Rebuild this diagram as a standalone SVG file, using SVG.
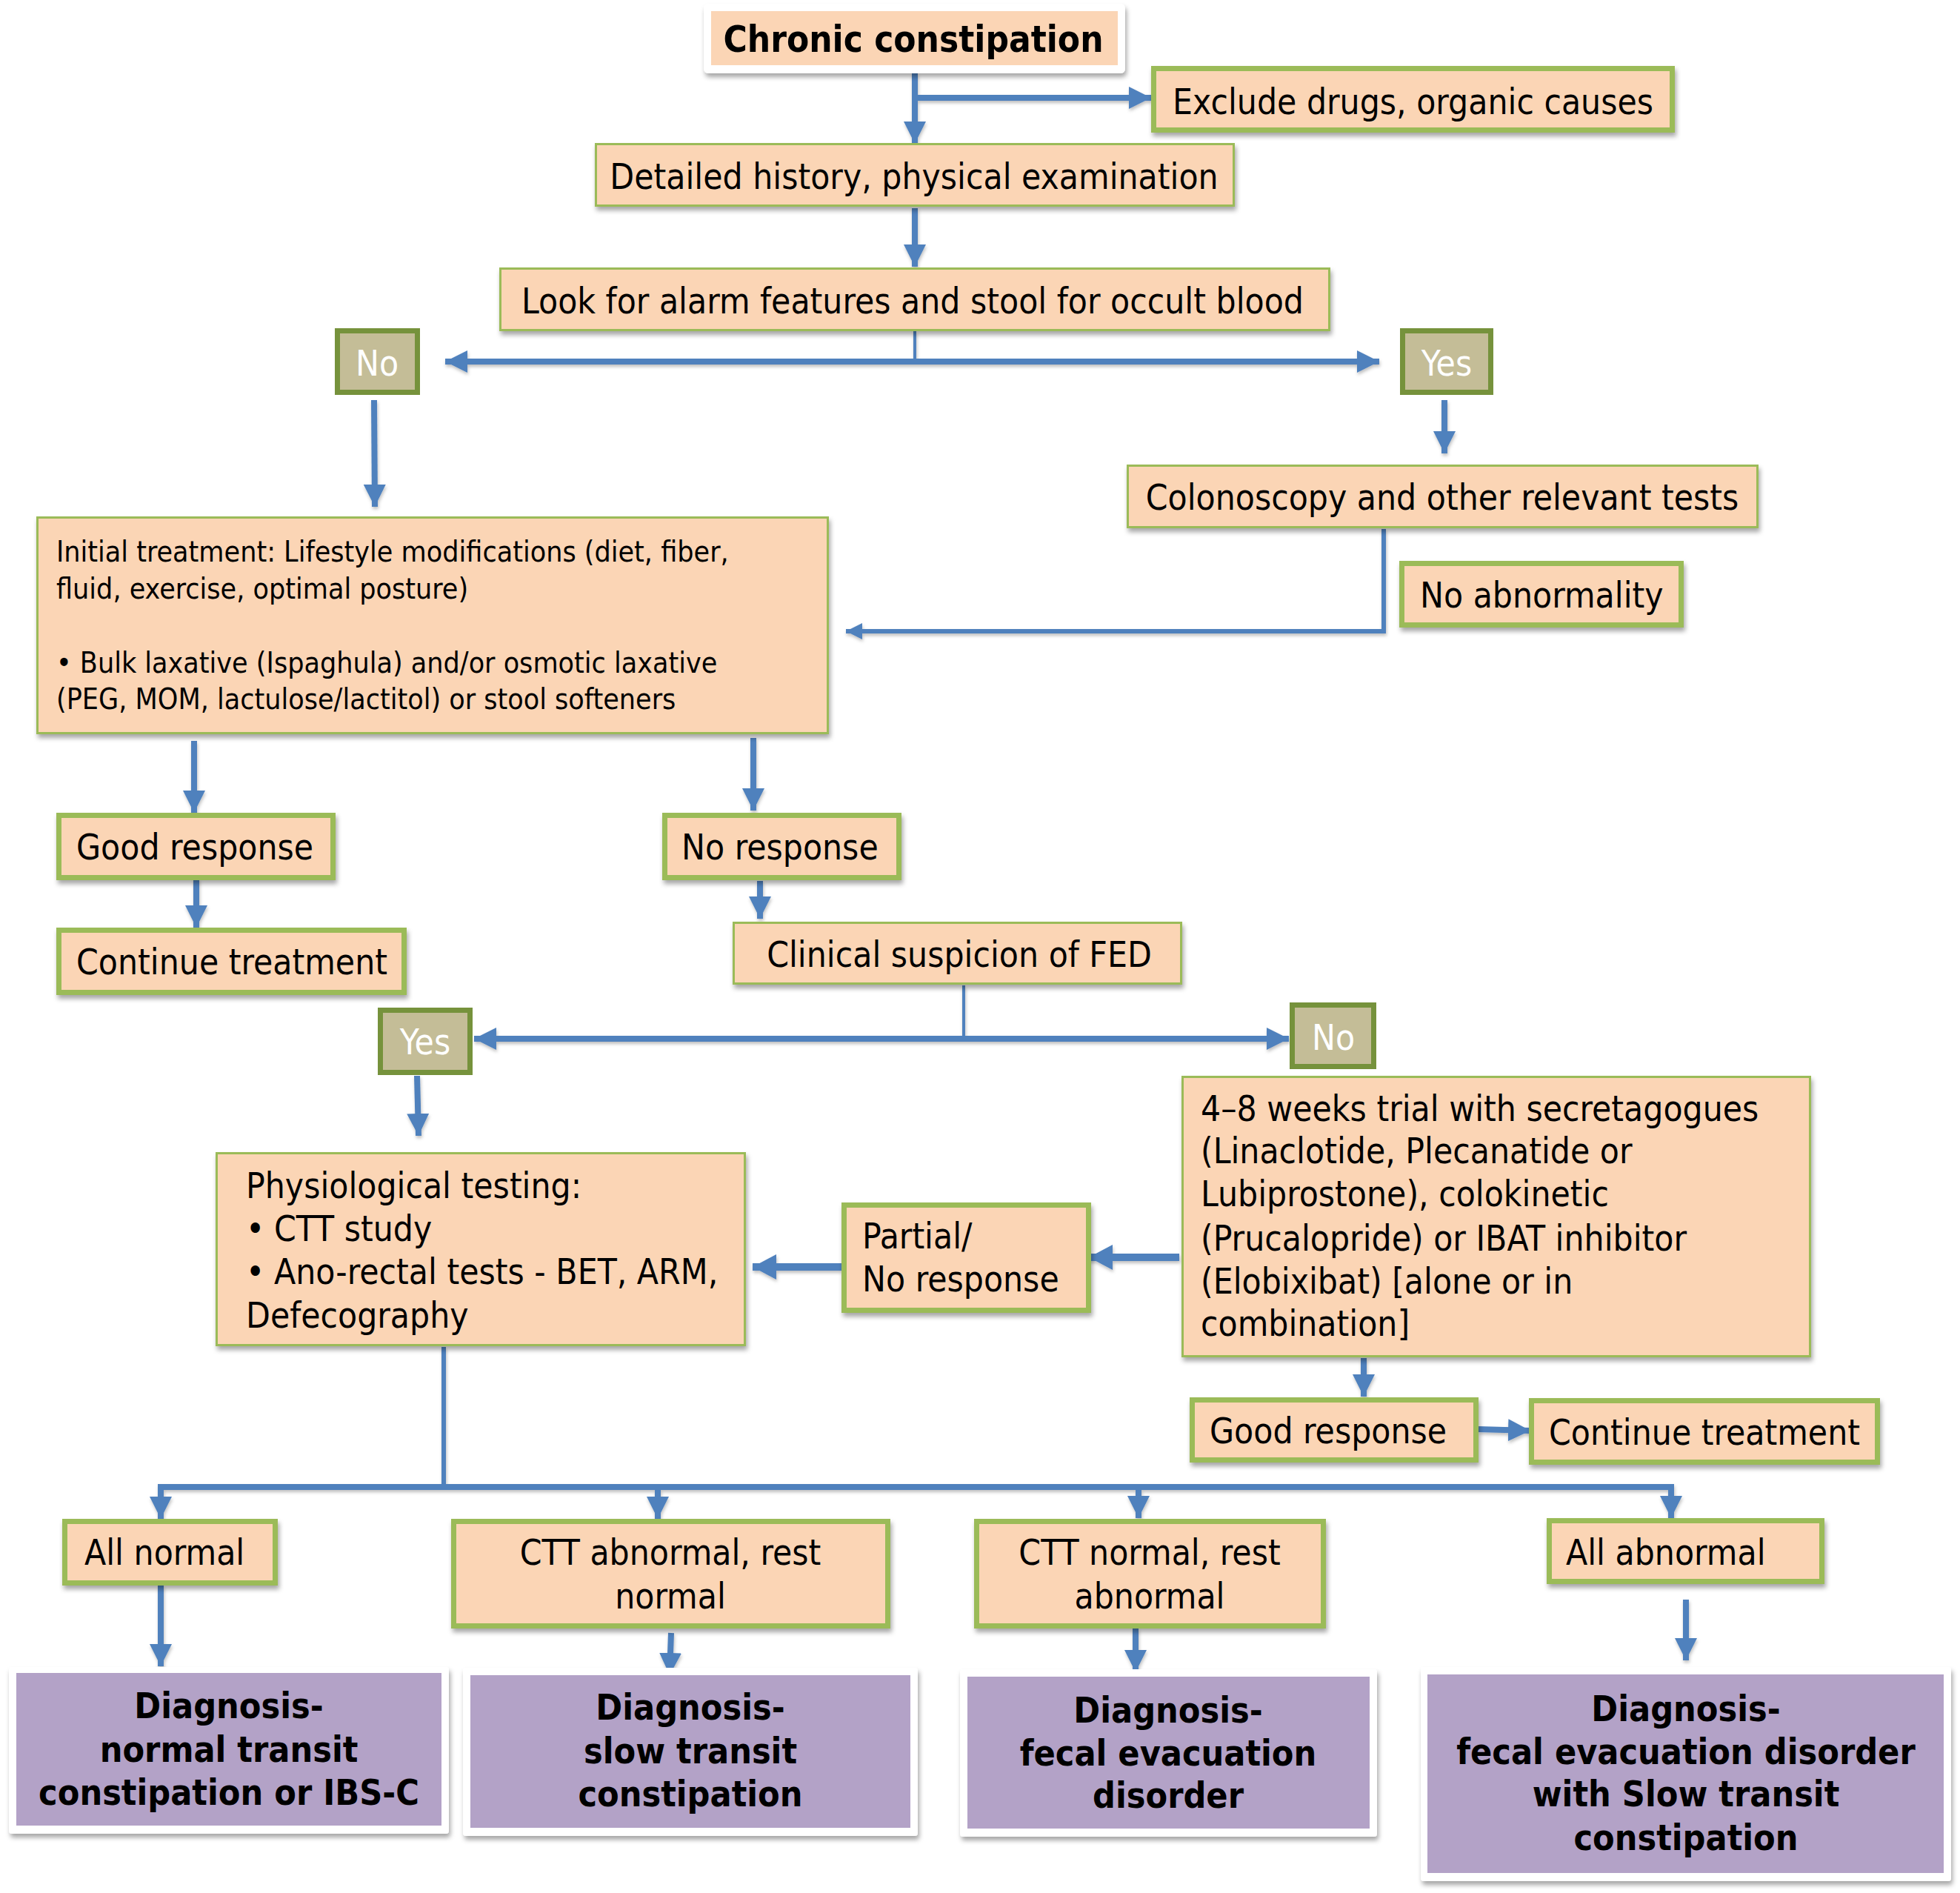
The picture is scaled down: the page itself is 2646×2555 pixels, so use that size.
<svg xmlns="http://www.w3.org/2000/svg" width="2646" height="2555" viewBox="0 0 2646 2555">
<style>
.t{font-family:"DejaVu Sans Condensed","DejaVu Sans",sans-serif;font-stretch:condensed;font-size:47.5px;fill:#000}
.s{font-size:39px}
.w{fill:#fff}
.m{text-anchor:middle}
.tb{font-family:"DejaVu Sans Condensed","DejaVu Sans",sans-serif;font-stretch:condensed;font-weight:bold;font-size:49px;text-anchor:middle}
.db{font-family:"DejaVu Sans Condensed","DejaVu Sans",sans-serif;font-stretch:condensed;font-weight:bold;font-size:48px;text-anchor:middle;fill:#000}
.p1{fill:#FBD5B5;stroke:#9BBB59;stroke-width:3}
.p2{fill:#FBD5B5;stroke:#9BBB59;stroke-width:7}
.ol{fill:#C4BD97;stroke:#76923C;stroke-width:7}
.pu{fill:#B3A2C7}
.wb{fill:#fff}
.c{stroke:#4F81BD;fill:none;stroke-width:8}
.c4{stroke-width:4}
.c6{stroke-width:6}
.c10{stroke-width:10}
</style>
<defs>
<filter id="sh" x="-10%" y="-10%" width="120%" height="130%">
<feDropShadow dx="2" dy="5" stdDeviation="3" flood-color="#000" flood-opacity="0.35"/>
</filter>
<filter id="shl" x="-10%" y="-50%" width="120%" height="200%">
<feDropShadow dx="1" dy="3" stdDeviation="2" flood-color="#000" flood-opacity="0.25"/>
</filter>
<marker id="a" markerWidth="30" markerHeight="30" refX="30" refY="15" orient="auto-start-reverse" markerUnits="userSpaceOnUse">
<path d="M0,0 L30,15 L0,30 Z" fill="#4F81BD"/>
</marker>
<marker id="as" markerWidth="22" markerHeight="22" refX="22" refY="11" orient="auto-start-reverse" markerUnits="userSpaceOnUse">
<path d="M0,0 L22,11 L0,22 Z" fill="#4F81BD"/>
</marker>
<marker id="ab" markerWidth="32" markerHeight="34" refX="32" refY="17" orient="auto-start-reverse" markerUnits="userSpaceOnUse">
<path d="M0,0 L32,17 L0,34 Z" fill="#4F81BD"/>
</marker>
</defs>
<rect width="2646" height="2555" fill="#fff"/>

<g id="connectors" filter="url(#shl)">
<line class="c" x1="1235" y1="99" x2="1235" y2="194" marker-end="url(#a)"/>
<line class="c" x1="1235" y1="132" x2="1554" y2="132" marker-end="url(#a)"/>
<line class="c" x1="1235" y1="281" x2="1235" y2="360" marker-end="url(#a)"/>
<line class="c c4" x1="1235" y1="447" x2="1235" y2="488"/>
<line class="c" x1="601" y1="488" x2="1862" y2="488" marker-start="url(#a)" marker-end="url(#a)"/>
<line class="c" x1="505" y1="540" x2="506" y2="684" marker-end="url(#a)"/>
<line class="c" x1="1950" y1="540" x2="1950" y2="612" marker-end="url(#a)"/>
<path class="c c6" d="M1868,714 V852 H1142" marker-end="url(#as)"/>
<line class="c" x1="262" y1="1000" x2="262" y2="1097" marker-end="url(#a)"/>
<line class="c" x1="1017" y1="996" x2="1017" y2="1094" marker-end="url(#a)"/>
<line class="c" x1="265" y1="1186" x2="265" y2="1252" marker-end="url(#a)"/>
<line class="c" x1="1026" y1="1189" x2="1026" y2="1240" marker-end="url(#a)"/>
<line class="c c4" x1="1301" y1="1330" x2="1301" y2="1402"/>
<line class="c" x1="640" y1="1402" x2="1740" y2="1402" marker-start="url(#a)" marker-end="url(#a)"/>
<line class="c" x1="563" y1="1452" x2="565" y2="1533" marker-end="url(#a)"/>
<line class="c c10" x1="1592" y1="1697" x2="1470" y2="1697" marker-end="url(#ab)"/>
<line class="c c10" x1="1136" y1="1710" x2="1016" y2="1710" marker-end="url(#ab)"/>
<line class="c" x1="1841" y1="1833" x2="1841" y2="1885" marker-end="url(#a)"/>
<line class="c" x1="1996" y1="1929" x2="2066" y2="1931" marker-end="url(#a)"/>
<line class="c c6" x1="599" y1="1818" x2="599" y2="2007"/>
<line class="c" x1="217" y1="2007" x2="2256" y2="2007"/>
<line class="c" x1="217" y1="2003" x2="217" y2="2050" marker-end="url(#a)"/>
<line class="c" x1="888" y1="2007" x2="888" y2="2050" marker-end="url(#a)"/>
<line class="c" x1="1537" y1="2007" x2="1537" y2="2049" marker-end="url(#a)"/>
<line class="c" x1="2256" y1="2003" x2="2256" y2="2049" marker-end="url(#a)"/>
<line class="c" x1="217" y1="2140" x2="217" y2="2249" marker-end="url(#a)"/>
<line class="c" x1="906" y1="2204" x2="904" y2="2261" marker-end="url(#a)"/>
<line class="c" x1="1533" y1="2198" x2="1533" y2="2257" marker-end="url(#a)"/>
<line class="c" x1="2276" y1="2159" x2="2276" y2="2241" marker-end="url(#a)"/>
</g>

<g id="n-chronic">
<rect class="wb" x="950" y="5" width="569" height="94" rx="6" filter="url(#sh)"/>
<rect x="960" y="15" width="549" height="73" fill="#FBD5B5"/>
<text class="tb" x="1233" y="70">Chronic constipation</text>
</g>
<g id="n-exclude">
<rect class="p2" x="1557.5" y="92.5" width="700" height="83" filter="url(#sh)"/>
<text class="t" x="1583" y="154">Exclude drugs, organic causes</text>
</g>
<g id="n-history">
<rect class="p1" x="804.5" y="194.5" width="861" height="83" filter="url(#sh)"/>
<text class="t m" x="1234" y="255">Detailed history, physical examination</text>
</g>
<g id="n-alarm">
<rect class="p1" x="675.5" y="362.5" width="1119" height="83" filter="url(#sh)"/>
<text class="t m" x="1232" y="423">Look for alarm features and stool for occult blood</text>
</g>
<g id="n-no1">
<rect class="ol" x="455.5" y="446.5" width="108" height="83"/>
<text class="t w m" x="509" y="507">No</text>
</g>
<g id="n-yes1">
<rect class="ol" x="1893.5" y="446.5" width="119" height="83"/>
<text class="t w m" x="1953" y="507">Yes</text>
</g>
<g id="n-colonoscopy">
<rect class="p1" x="1522.5" y="628.5" width="850" height="83" filter="url(#sh)"/>
<text class="t m" x="1947" y="688">Colonoscopy and other relevant tests</text>
</g>
<g id="n-noabn">
<rect class="p2" x="1892.5" y="760.5" width="377" height="83" filter="url(#sh)"/>
<text class="t" x="1917" y="820">No abnormality</text>
</g>
<g id="n-initial">
<rect class="p1" x="50.5" y="698.5" width="1067" height="291" filter="url(#sh)"/>
<text class="t s" x="76" y="758">Initial treatment: Lifestyle modifications (diet, fiber,</text>
<text class="t s" x="76" y="808">fluid, exercise, optimal posture)</text>
<text class="t s" x="76" y="908">• Bulk laxative (Ispaghula) and/or osmotic laxative</text>
<text class="t s" x="76" y="957">(PEG, MOM, lactulose/lactitol) or stool softeners</text>
</g>
<g id="n-good1">
<rect class="p2" x="79.5" y="1100.5" width="370" height="84" filter="url(#sh)"/>
<text class="t" x="103" y="1160">Good response</text>
</g>
<g id="n-cont1">
<rect class="p2" x="79.5" y="1255.5" width="466" height="84" filter="url(#sh)"/>
<text class="t" x="103" y="1315">Continue treatment</text>
</g>
<g id="n-noresp">
<rect class="p2" x="897.5" y="1100.5" width="316" height="84" filter="url(#sh)"/>
<text class="t" x="920" y="1160">No response</text>
</g>
<g id="n-fed">
<rect class="p1" x="990.5" y="1245.5" width="604" height="82" filter="url(#sh)"/>
<text class="t m" x="1295" y="1305">Clinical suspicion of FED</text>
</g>
<g id="n-yes2">
<rect class="ol" x="513.5" y="1363.5" width="121" height="84"/>
<text class="t w m" x="574" y="1423">Yes</text>
</g>
<g id="n-no2">
<rect class="ol" x="1744.5" y="1356.5" width="110" height="83"/>
<text class="t w m" x="1800" y="1417">No</text>
</g>
<g id="n-trial">
<rect class="p1" x="1596.5" y="1453.5" width="847" height="377" filter="url(#sh)"/>
<text class="t" x="1621" y="1513">4–8 weeks trial with secretagogues</text>
<text class="t" x="1621" y="1570">(Linaclotide, Plecanatide or</text>
<text class="t" x="1621" y="1628">Lubiprostone), colokinetic</text>
<text class="t" x="1621" y="1688">(Prucalopride) or IBAT inhibitor</text>
<text class="t" x="1621" y="1746">(Elobixibat) [alone or in</text>
<text class="t" x="1621" y="1803">combination]</text>
</g>
<g id="n-physio">
<rect class="p1" x="292.5" y="1556.5" width="713" height="259" filter="url(#sh)"/>
<text class="t" x="332" y="1617">Physiological testing:</text>
<text class="t" x="332" y="1675">•</text><text class="t" x="370" y="1675">CTT study</text>
<text class="t" x="332" y="1733">•</text><text class="t" x="370" y="1733">Ano-rectal tests - BET, ARM,</text>
<text class="t" x="332" y="1792">Defecography</text>
</g>
<g id="n-partial">
<rect class="p2" x="1139.5" y="1626.5" width="330" height="142" filter="url(#sh)"/>
<text class="t" x="1164" y="1685">Partial/</text>
<text class="t" x="1164" y="1743">No response</text>
</g>
<g id="n-good2">
<rect class="p2" x="1609.5" y="1889.5" width="383" height="81" filter="url(#sh)"/>
<text class="t" x="1633" y="1948">Good response</text>
</g>
<g id="n-cont2">
<rect class="p2" x="2067.5" y="1890.5" width="467" height="83" filter="url(#sh)"/>
<text class="t" x="2091" y="1950">Continue treatment</text>
</g>
<g id="n-allnormal">
<rect class="p2" x="87.5" y="2053.5" width="284" height="83" filter="url(#sh)"/>
<text class="t" x="114" y="2112">All normal</text>
</g>
<g id="n-cttabn">
<rect class="p2" x="612.5" y="2053.5" width="586" height="141" filter="url(#sh)"/>
<text class="t m" x="905" y="2112">CTT abnormal, rest</text>
<text class="t m" x="905" y="2171">normal</text>
</g>
<g id="n-cttnorm">
<rect class="p2" x="1318.5" y="2053.5" width="468" height="141" filter="url(#sh)"/>
<text class="t m" x="1552" y="2112">CTT normal, rest</text>
<text class="t m" x="1552" y="2171">abnormal</text>
</g>
<g id="n-allabn">
<rect class="p2" x="2091.5" y="2052.5" width="368" height="82" filter="url(#sh)"/>
<text class="t" x="2114" y="2112">All abnormal</text>
</g>
<g id="n-diag1">
<rect class="wb" x="12" y="2250" width="594" height="225" rx="4" filter="url(#sh)"/>
<rect class="pu" x="22" y="2258" width="574" height="206"/>
<text class="db" x="309" y="2319">Diagnosis-</text>
<text class="db" x="309" y="2378">normal transit</text>
<text class="db" x="309" y="2436">constipation or IBS-C</text>
</g>
<g id="n-diag2">
<rect class="wb" x="625" y="2251" width="614" height="227" rx="4" filter="url(#sh)"/>
<rect class="pu" x="635" y="2261" width="594" height="206"/>
<text class="db" x="932" y="2321">Diagnosis-</text>
<text class="db" x="932" y="2380">slow transit</text>
<text class="db" x="932" y="2438">constipation</text>
</g>
<g id="n-diag3">
<rect class="wb" x="1296" y="2253" width="563" height="226" rx="4" filter="url(#sh)"/>
<rect class="pu" x="1306" y="2263" width="543" height="205"/>
<text class="db" x="1577" y="2325">Diagnosis-</text>
<text class="db" x="1577" y="2383">fecal evacuation</text>
<text class="db" x="1577" y="2440">disorder</text>
</g>
<g id="n-diag4">
<rect class="wb" x="1918" y="2250" width="716" height="289" rx="4" filter="url(#sh)"/>
<rect class="pu" x="1927" y="2260" width="697" height="268"/>
<text class="db" x="2276" y="2323">Diagnosis-</text>
<text class="db" x="2276" y="2381">fecal evacuation disorder</text>
<text class="db" x="2276" y="2438">with Slow transit</text>
<text class="db" x="2276" y="2497">constipation</text>
</g>
</svg>
